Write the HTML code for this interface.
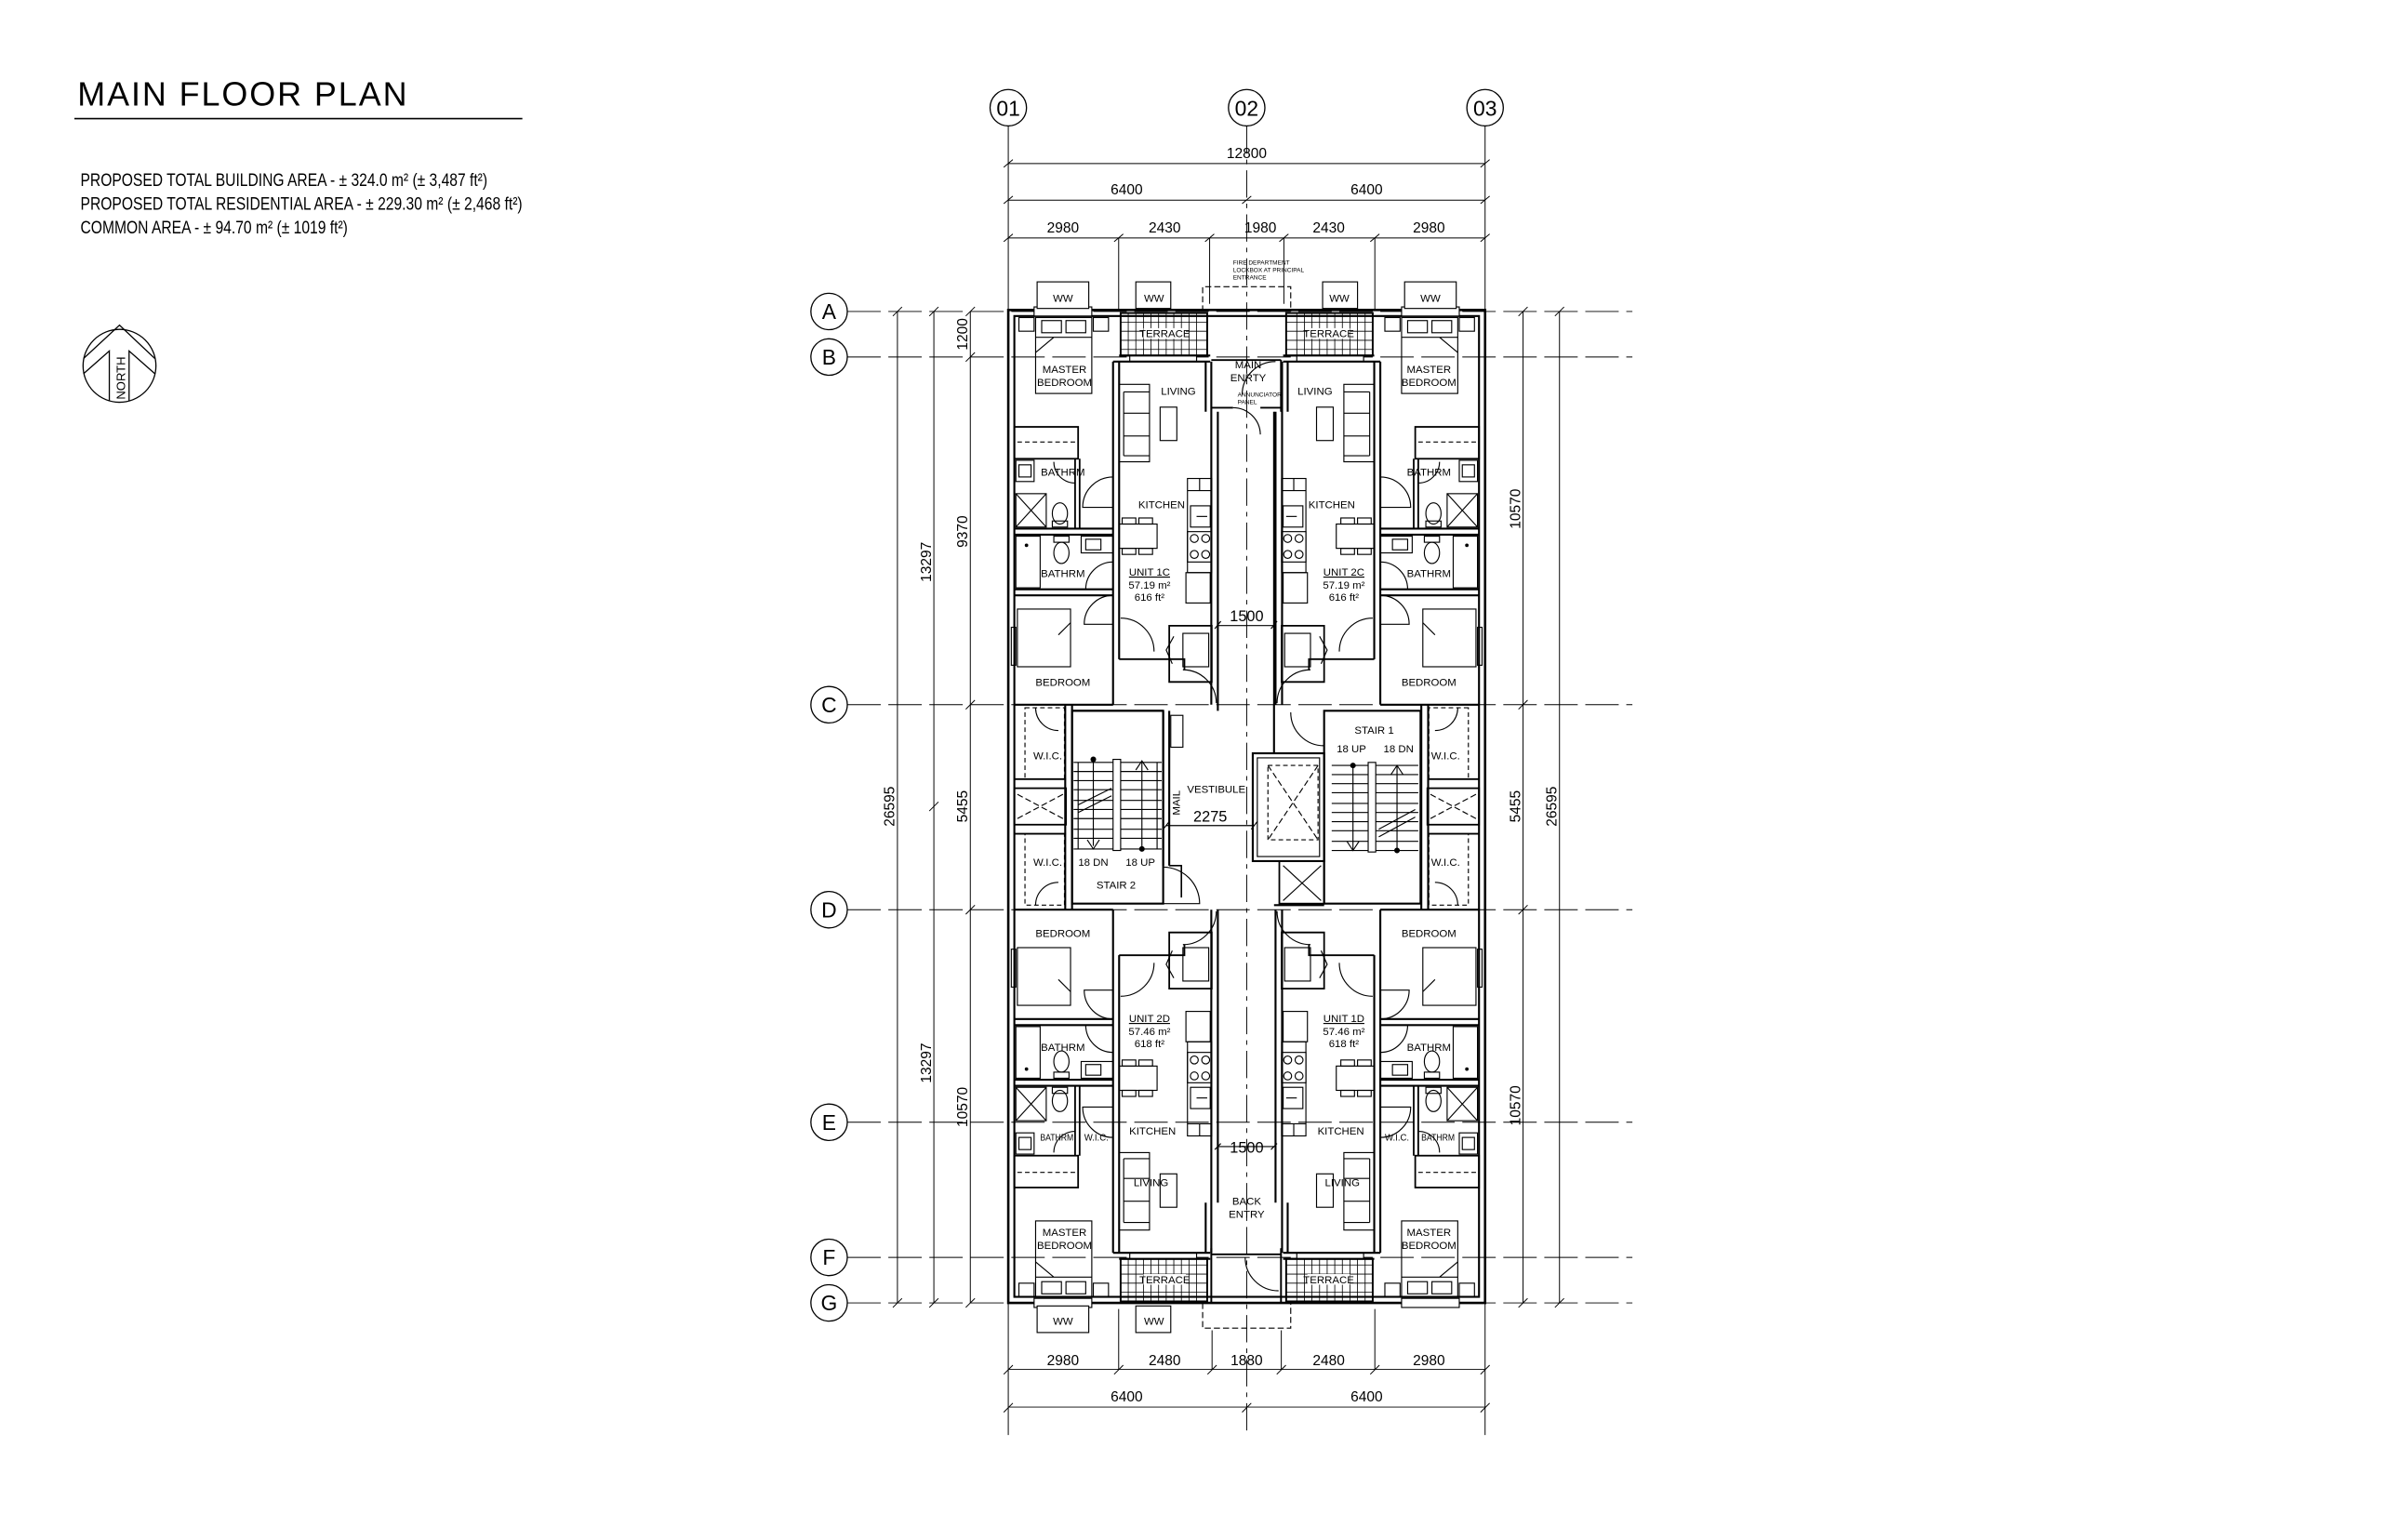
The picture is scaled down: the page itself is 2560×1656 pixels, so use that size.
<!DOCTYPE html>
<html><head><meta charset="utf-8"><style>
html,body{margin:0;padding:0;background:#fff;}
svg{display:block;}
text{font-family:"Liberation Sans Narrow","Liberation Sans",sans-serif;fill:#000;stroke:none;}
</style></head><body>
<svg width="2560" height="1656" viewBox="0 0 1568 1014" xmlns="http://www.w3.org/2000/svg">
<rect width="1568" height="1014" fill="#fff"/>
<defs>
<g id="q" fill="none" stroke="#000" stroke-width="0.7">
  <rect x="738" y="206" width="57" height="28" stroke-width="1.2"/>
  <path d="M743,206V234M748,206V234M753,206V234M758,206V234M763,206V234M768,206V234M773,206V234M778,206V234M783,206V234M788,206V234M738,212H795M738,218H795M738,224H795M738,230H795" stroke-width="0.5"/>
  <rect x="681" y="202" width="38" height="6" fill="#fff"/>
  <rect x="744" y="234" width="44" height="4" fill="#fff"/>
  <path d="M733,238V464M737,238V434M737,234H797M733,238H797" stroke-width="1.3"/>
  <path d="M794,238V271M797.7,238V271M797.7,271V464M802,271V464" stroke-width="1.3"/>
  <rect x="682" y="209" width="37" height="50"/>
  <rect x="686" y="211" width="13" height="8"/><rect x="702" y="211" width="13" height="8"/>
  <path d="M682,222H719M694,222L682,232"/>
  <rect x="671" y="209" width="10" height="9"/><rect x="720" y="209" width="10" height="9"/>
  <rect x="668" y="281" width="42" height="21" stroke-width="1.1"/>
  <path d="M670,291H708" stroke-dasharray="3,2"/>
  <path d="M708,302V348M711,302V348" stroke-width="1.1"/>
  <rect x="669" y="303" width="12" height="14"/><rect x="671" y="306" width="8" height="8"/>
  <rect x="669" y="325" width="20" height="22"/><path d="M669,325L689,347M689,325L669,347"/>
  <ellipse cx="698" cy="338" rx="5" ry="7"/><rect x="693" y="343" width="10" height="4"/>
  <path d="M708,318A14,14 0 0 1 694,304"/>
  <path d="M668,348H733M668,352H733" stroke-width="1.3"/>
  <rect x="669" y="353" width="16" height="34"/><circle cx="676" cy="359" r="0.8" fill="#000"/>
  <ellipse cx="699" cy="364" rx="5" ry="7"/><rect x="694" y="353" width="10" height="4"/>
  <rect x="712" y="353" width="21" height="11"/><rect x="715" y="355" width="10" height="7"/>
  <path d="M668,388H733M668,392H733" stroke-width="1.3"/>
  <path d="M733,314A20,20 0 0 0 713,334H733"/>
  <path d="M733,370A18,18 0 0 0 715,388"/>
  <path d="M733,392A19,19 0 0 0 714,411H733"/>
  <path d="M738,407A22,22 0 0 1 760,429"/>
  <path d="M801,463A22,22 0 0 0 779,441"/>
  <path d="M737,434H780V441" stroke-width="1.1"/>
  <rect x="737" y="253" width="20" height="51"/><path d="M740,258H757M740,272H757M740,287H757M740,300H757M740,258V300"/>
  <rect x="764" y="268" width="11" height="22"/>
  <rect x="737" y="345" width="25" height="16"/>
  <rect x="739" y="341" width="9" height="4"/><rect x="750" y="341" width="9" height="4"/>
  <rect x="739" y="361" width="9" height="4"/><rect x="750" y="361" width="9" height="4"/>
  <rect x="782" y="315" width="16" height="62"/><path d="M782,323H798M790,315V323"/>
  <rect x="784" y="333" width="13" height="14"/><path d="M788,340H795"/>
  <rect x="782" y="350" width="16" height="20"/>
  <circle cx="786.5" cy="354.5" r="2.6"/><circle cx="794" cy="354.5" r="2.6"/>
  <circle cx="786.5" cy="365" r="2.6"/><circle cx="794" cy="365" r="2.6"/>
  <rect x="781" y="377" width="16" height="20"/>
  <path d="M770,412H798V449H770Z" stroke-width="1.1"/>
  <rect x="779" y="417" width="17" height="22"/>
  <path d="M773,419L768,428L772,437"/>
  <rect x="670" y="401" width="35" height="38"/><path d="M705,410L697,418"/>
  <rect x="666" y="413" width="3" height="25"/>
  <path d="M668,464H733" stroke-width="1.3"/>
</g>
<g id="wic" fill="none" stroke="#000" stroke-width="0.7">
  <path d="M701.5,464V599M706,464V599" stroke-width="1.3"/>
  <rect x="675" y="466" width="26" height="47" stroke-dasharray="3,2"/>
  <rect x="675" y="549" width="26" height="47" stroke-dasharray="3,2"/>
  <rect x="668" y="519" width="34" height="24" stroke-width="1.1"/>
  <path d="M670,523L700,539M700,523L670,539" stroke-dasharray="4,2"/>
  <path d="M682,466A15,15 0 0 0 697,481"/>
  <path d="M682,596A15,15 0 0 1 697,581"/>
  <path d="M668,513H702M668,549H702" stroke-width="1.1"/>
</g>
</defs>

<text x="51" y="69.5" font-size="22" textLength="217" lengthAdjust="spacing" style="font-family:'Liberation Sans Narrow','Liberation Sans',sans-serif;font-weight:300">MAIN  FLOOR  PLAN</text>
<line x1="49" y1="78" x2="344" y2="78" stroke="#000" stroke-width="1"/>
<text x="53" y="122.4" font-size="12" textLength="268" lengthAdjust="spacingAndGlyphs">PROPOSED TOTAL BUILDING AREA - ± 324.0 m² (± 3,487 ft²)</text>
<text x="53" y="138" font-size="12" textLength="291" lengthAdjust="spacingAndGlyphs">PROPOSED TOTAL RESIDENTIAL AREA - ± 229.30 m² (± 2,468 ft²)</text>
<text x="53" y="153.6" font-size="12" textLength="176" lengthAdjust="spacingAndGlyphs">COMMON AREA - ± 94.70 m² (± 1019 ft²)</text>
<g fill="none" stroke="#000" stroke-width="0.8">
<circle cx="78.7" cy="240.8" r="24"/>
<path d="M55,236L78.7,214L102,236M55,246L72,231V264M102,246L85,231V264"/>
</g>
<text transform="translate(82.5,263) rotate(-90)" font-size="8">NORTH</text>

<g stroke="#000" stroke-width="0.6" fill="none">
<path d="M664,83V945M978,83V945"/>
<path d="M821,83V945" stroke-dasharray="18,4,3,4"/>
<path d="M558,205H1075M558,235H1075M558,464H1075M558,599H1075M558,739H1075M558,828H1075M558,858H1075" stroke-dasharray="22,5"/>
<path d="M664,107.6H978M664,131.7H978M664,156.6H978"/>
<path d="M736.7,156.6V204M796.6,156.6V200M845.5,156.6V200M905.4,156.6V204"/>
<path d="M661,110L667,105M975,110L981,105M661,134L667,129M818,134L824,129M975,134L981,129M661,159L667,154M733.7,159L739.7,154M793.6,159L799.6,154M842.5,159L848.5,154M902.4,159L908.4,154M975,159L981,154"/>
<path d="M664,901.8H978M664,926.6H978"/>
<path d="M736.7,862V901.8M798.2,876V901.8M843.8,876V901.8M905.4,862V901.8"/>
<path d="M661,905L667,899M733.7,905L739.7,899M795.2,905L801.2,899M840.8,905L846.8,899M902.4,905L908.4,899M975,905L981,899M661,930L667,924M818,930L824,924M975,930L981,924"/>
<path d="M591,205V858M615,205V858M639,205V858"/>
<path d="M588,208L594,202M588,861L594,855M612,208L618,202M612,534L618,528M612,861L618,855M636,208L642,202M636,238L642,232M636,467L642,461M636,602L642,596M636,861L642,855"/>
<path d="M1003,205V858M1027,205V858"/>
<path d="M1000,208L1006,202M1000,467L1006,461M1000,602L1006,596M1000,861L1006,855M1024,208L1030,202M1024,861L1030,855"/>
</g>
<g fill="#fff" stroke="#000" stroke-width="0.8">
<circle cx="664" cy="70.8" r="12"/><circle cx="821" cy="70.8" r="12"/><circle cx="978" cy="70.8" r="12"/>
<circle cx="546" cy="205" r="12"/><circle cx="546" cy="235" r="12"/><circle cx="546" cy="464" r="12"/><circle cx="546" cy="599" r="12"/><circle cx="546" cy="739" r="12"/><circle cx="546" cy="828" r="12"/><circle cx="546" cy="858" r="12"/>
</g>
<g font-size="14" text-anchor="middle">
<text x="664" y="76">01</text><text x="821" y="76">02</text><text x="978" y="76">03</text>
<text x="546" y="210">A</text><text x="546" y="240">B</text><text x="546" y="469">C</text><text x="546" y="604">D</text><text x="546" y="744">E</text><text x="546" y="833">F</text><text x="546" y="863">G</text>
</g>
<g font-size="9.5" text-anchor="middle">
<text x="821" y="104">12800</text>
<text x="742" y="128">6400</text><text x="900" y="128">6400</text>
<text x="700" y="153">2980</text><text x="767" y="153">2430</text><text x="830" y="153">1980</text><text x="875" y="153">2430</text><text x="941" y="153">2980</text>
<text x="700" y="899">2980</text><text x="767" y="899">2480</text><text x="821" y="899">1880</text><text x="875" y="899">2480</text><text x="941" y="899">2980</text>
<text x="742" y="923">6400</text><text x="900" y="923">6400</text>
<text transform="translate(637,220) rotate(-90)">1200</text>
<text transform="translate(637,350) rotate(-90)">9370</text>
<text transform="translate(637,531) rotate(-90)">5455</text>
<text transform="translate(637,729) rotate(-90)">10570</text>
<text transform="translate(613,370) rotate(-90)">13297</text>
<text transform="translate(613,700) rotate(-90)">13297</text>
<text transform="translate(589,531) rotate(-90)">26595</text>
<text transform="translate(1001,335) rotate(-90)">10570</text>
<text transform="translate(1001,531) rotate(-90)">5455</text>
<text transform="translate(1001,728) rotate(-90)">10570</text>
<text transform="translate(1025,531) rotate(-90)">26595</text>
</g>

<g fill="none" stroke="#000">
<rect x="664" y="204" width="314" height="654" stroke-width="1.6"/>
<rect x="668" y="208" width="306" height="646" stroke-width="1.3"/>
</g>
<use href="#q"/>
<use href="#q" transform="matrix(-1,0,0,1,1642,0)"/>
<use href="#q" transform="matrix(1,0,0,-1,0,1063)"/>
<use href="#q" transform="matrix(-1,0,0,-1,1642,1063)"/>
<use href="#wic"/>
<use href="#wic" transform="matrix(-1,0,0,1,1642,0)"/>

<g fill="#fff" stroke="#000" stroke-width="0.7">
<rect x="683" y="185.5" width="34" height="17.5"/><rect x="748" y="185.5" width="23" height="17.5"/>
<rect x="871" y="185.5" width="23" height="17.5"/><rect x="925" y="185.5" width="34" height="17.5"/>
<rect x="683" y="860" width="34" height="17.5"/><rect x="748" y="860" width="23" height="17.5"/>
</g>
<g fill="none" stroke="#000" stroke-width="0.7">
<path d="M792,205V188.7H850V205M792,858V874.6H850V858" stroke-dasharray="4,2"/>
<path d="M797.7,237H843.6M797.7,268.4H812M830,268.4H843.6M843.6,237V271M839,271V464" stroke-width="1.2"/>
<path d="M840,238A22,22 0 0 0 818,260"/>
<path d="M812,268.4A18,18 0 0 1 830,286"/>
<path d="M797.7,826H843.6M843.6,822V858M797.7,822V858" stroke-width="1.2"/>
<path d="M820,828A22,22 0 0 0 842,850"/>
<path d="M802,411.9H839M802,755H839M768,543.6H826"/>
<path d="M800,414L804,409M837,414L841,409M800,757L804,753M837,757L841,753M766,546L770,541M824,546L828,541"/>
<path d="M706,468H766M802,464V468M766,468V570M770,468V570" stroke-width="1.3"/>
<rect x="706" y="468" width="60" height="127" stroke-width="1.3"/>
<rect x="771" y="471" width="8" height="21"/>
<path d="M770,570H778V591" stroke-width="1"/>
<path d="M766,571A24,24 0 0 1 790,595H766" />
<path d="M707,502H765M707,508H765M707,514H765M707,520H765M707,527H765M707,533H765M707,539H765M707,546H765M707,552H765M707,559H765M710,502V559M762,502V559"/>
<rect x="733" y="500" width="5" height="60" fill="#fff"/>
<path d="M720,500V557M752,502V559M710,530L732,519M710,535L732,524"/>
<path d="M716,553L720,559L724,553M748,507L752,501L756,507"/>
<circle cx="752" cy="559" r="1.5" fill="#000"/><circle cx="720" cy="500" r="1.5" fill="#000"/>
<rect x="872" y="468" width="63.5" height="127" stroke-width="1.3"/>
<path d="M839,464V496M839,596H872" stroke-width="1.3"/>
<path d="M850,469A22,22 0 0 0 872,491"/>
<path d="M877,504H934M877,510H934M877,516H934M877,522H934M877,529H934M877,535H934M877,541H934M877,547H934M877,554H934M877,560H934"/>
<rect x="901" y="502" width="5" height="59" fill="#fff"/>
<path d="M891,504V560M920,504V560M908,546L932,533M908,551L932,538"/>
<path d="M887,554L891,560L895,554M916,510L920,504L924,510"/>
<circle cx="891" cy="504" r="1.5" fill="#000"/><circle cx="920" cy="560" r="1.5" fill="#000"/>
<rect x="825" y="496" width="47" height="71" stroke-width="1.3"/>
<rect x="828" y="499" width="41" height="65"/>
<rect x="835" y="504" width="33" height="49" stroke-dasharray="3,2"/>
<path d="M835,504L868,553M868,504L835,553" stroke-dasharray="4,2"/>
<rect x="842.5" y="567" width="29.5" height="28" stroke-width="1.1"/>
<path d="M845,570L870,593M870,570L845,593"/>
</g>

<g font-size="7" text-anchor="middle">
<text x="700" y="198.5">WW</text><text x="760" y="198.5">WW</text><text x="882" y="198.5">WW</text><text x="942" y="198.5">WW</text>
<text x="700" y="872.5">WW</text><text x="760" y="872.5">WW</text>
<g>
<rect x="753" y="216" width="28" height="7" fill="#fff"/><rect x="861" y="216" width="28" height="7" fill="#fff"/>
<rect x="753" y="839" width="28" height="7" fill="#fff"/><rect x="861" y="839" width="28" height="7" fill="#fff"/>
</g>
<text x="767" y="222">TERRACE</text><text x="875" y="222">TERRACE</text>
<text x="767" y="845">TERRACE</text><text x="875" y="845">TERRACE</text>
<text x="701" y="245.5">MASTER</text><text x="701" y="254">BEDROOM</text>
<text x="941" y="245.5">MASTER</text><text x="941" y="254">BEDROOM</text>
<text x="701" y="814">MASTER</text><text x="701" y="822.5">BEDROOM</text>
<text x="941" y="814">MASTER</text><text x="941" y="822.5">BEDROOM</text>
<text x="776" y="260">LIVING</text><text x="866" y="260">LIVING</text>
<text x="758" y="781">LIVING</text><text x="884" y="781">LIVING</text>
<text x="822" y="242.5">MAIN</text><text x="822" y="251">ENRTY</text>
<text x="821" y="793.5">BACK</text><text x="821" y="802">ENTRY</text>
<text x="700" y="313">BATHRM</text><text x="941" y="313">BATHRM</text>
<text x="700" y="380">BATHRM</text><text x="941" y="380">BATHRM</text>
<text x="700" y="692">BATHRM</text><text x="941" y="692">BATHRM</text>
<text x="696" y="751" font-size="6" textLength="22" lengthAdjust="spacingAndGlyphs">BATHRM</text><text x="947" y="751" font-size="6" textLength="22" lengthAdjust="spacingAndGlyphs">BATHRM</text>
<text x="722" y="751" font-size="6" textLength="16" lengthAdjust="spacingAndGlyphs">W.I.C.</text><text x="920" y="751" font-size="6" textLength="16" lengthAdjust="spacingAndGlyphs">W.I.C.</text>
<text x="765" y="334.5">KITCHEN</text><text x="877" y="334.5">KITCHEN</text>
<text x="759" y="747">KITCHEN</text><text x="883" y="747">KITCHEN</text>
<text x="700" y="451.5">BEDROOM</text><text x="941" y="451.5">BEDROOM</text>
<text x="700" y="617">BEDROOM</text><text x="941" y="617">BEDROOM</text>
<text x="690" y="500">W.I.C.</text><text x="952" y="500">W.I.C.</text>
<text x="690" y="570">W.I.C.</text><text x="952" y="570">W.I.C.</text>
<text x="801" y="522">VESTIBULE</text>
<text x="905" y="483">STAIR 1</text><text x="890" y="495.5">18 UP</text><text x="921" y="495.5">18 DN</text>
<text x="735" y="585">STAIR 2</text><text x="720" y="570">18 DN</text><text x="751" y="570">18 UP</text>
<text transform="translate(777,528.6) rotate(-90)">MAIL</text>
<text x="757" y="379" text-decoration="underline">UNIT 1C</text><text x="757" y="387.5">57.19 m²</text><text x="757" y="395.5">616 ft²</text>
<text x="885" y="379" text-decoration="underline">UNIT 2C</text><text x="885" y="387.5">57.19 m²</text><text x="885" y="395.5">616 ft²</text>
<text x="757" y="673" text-decoration="underline">UNIT 2D</text><text x="757" y="681.5">57.46 m²</text><text x="757" y="689.5">618 ft²</text>
<text x="885" y="673" text-decoration="underline">UNIT 1D</text><text x="885" y="681.5">57.46 m²</text><text x="885" y="689.5">618 ft²</text>
</g>
<g font-size="4" text-anchor="start">
<text x="812" y="174">FIRE DEPARTMENT</text><text x="812" y="179">LOCKBOX AT PRINCIPAL</text><text x="812" y="184">ENTRANCE</text>
<text x="815" y="261">ANNUNCIATOR</text><text x="815" y="266">PANEL</text>
</g>
<g font-size="10" text-anchor="middle">
<text x="821" y="409">1500</text><text x="821" y="759">1500</text><text x="797" y="541">2275</text>
</g>
</svg>
</body></html>
